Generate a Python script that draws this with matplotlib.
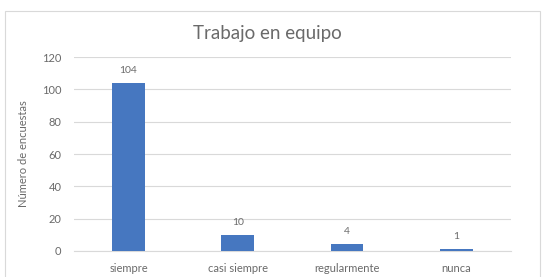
import matplotlib
matplotlib.use('Agg')
import matplotlib.pyplot as plt
from matplotlib.patches import Rectangle

# DATA
categorias = ['siempre', 'casi siempre', 'regularmente', 'nunca']
encuestas = [104, 10, 4, 1]
y_ticks = [0, 20, 40, 60, 80, 100, 120]

plt.rcParams['font.family'] = ['Lato', 'DejaVu Sans']

gris = '#6a6a6a'
azul = '#4677C0'

fig = plt.figure(figsize=(5.43, 2.77), dpi=100)
fig.patch.set_facecolor('white')

# light frame around the chart like excel
fig.patches.append(Rectangle((0.009, -0.01), 0.985, 0.97, transform=fig.transFigure,
                             fill=False, edgecolor='#d9d9d9', linewidth=0.8))

ax = fig.add_axes([0.136, 0.094, 0.805, 0.700])

x = range(len(categorias))
bars = ax.bar(x, encuestas, width=0.3, color=azul, zorder=3)

for b, v in zip(bars, encuestas):
    ax.text(b.get_x() + b.get_width() / 2, v + 5, str(v), ha='center', va='bottom',
            fontsize=7.5, color=gris)

ax.set_ylim(0, 120)
ax.set_xlim(-0.5, len(categorias) - 0.5)
ax.set_yticks(y_ticks)
ax.set_xticks(list(x))
ax.set_xticklabels(categorias)
ax.tick_params(axis='both', length=0, labelsize=8, labelcolor=gris)
ax.tick_params(axis='y', pad=9)
ax.tick_params(axis='x', pad=9)
ax.grid(axis='y', color='#d9d9d9', linewidth=0.8, zorder=0)

for s in ['top', 'right', 'left']:
    ax.spines[s].set_visible(False)
ax.spines['bottom'].set_color('#d9d9d9')

ax.set_ylabel('Número de encuestas', fontsize=8, color=gris, labelpad=9)
fig.text(0.493, 0.88, 'Trabajo en equipo', ha='center', va='center', fontsize=13.5, color=gris)

plt.savefig('out.png', dpi=100)
